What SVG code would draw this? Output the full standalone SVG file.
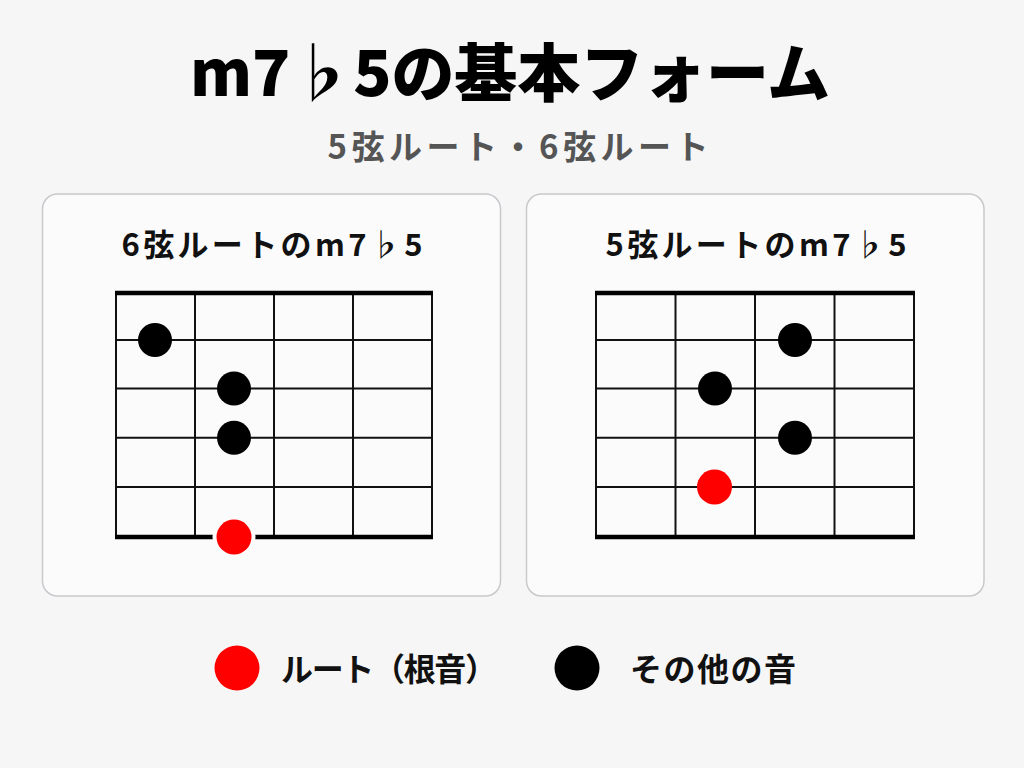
<svg xmlns="http://www.w3.org/2000/svg" width="1024" height="768" viewBox="0 0 1024 768">
  <style>
    .t { font-family: "Noto Sans CJK JP", "Noto Sans", sans-serif; font-weight: bold; }
    .h { font-weight: 900; }
    .panel { fill: #fbfbfb; stroke: #c9c9cd; stroke-width: 1.5; }
    .thin { stroke: #111; stroke-width: 2; fill: none; }
    .thick { stroke: #000; stroke-width: 4.5; }
    .note { fill: #000; }
    .root { fill: #ff0000; }
  </style>
  <rect x="0" y="0" width="1024" height="768" fill="#f6f6f6"/>

  <g id="title">
    <text class="t h" x="510" y="96" font-size="63" text-anchor="middle" fill="#000" textLength="640" lengthAdjust="spacing">m7♭5の基本フォーム</text>
    <text class="t" x="518" y="159" font-size="33" text-anchor="middle" fill="#555" textLength="381" lengthAdjust="spacing">5弦ルート・6弦ルート</text>
  </g>

  <g id="panel-6">
    <rect class="panel" x="42.5" y="194" width="458" height="402" rx="15"/>
    <text class="t" x="272" y="256" font-size="31" text-anchor="middle" fill="#111" textLength="301" lengthAdjust="spacing">6弦ルートのm7♭5</text>
    <g class="thin">
      <line x1="116" y1="293" x2="116" y2="537"/>
      <line x1="195" y1="293" x2="195" y2="537"/>
      <line x1="274" y1="293" x2="274" y2="537"/>
      <line x1="353" y1="293" x2="353" y2="537"/>
      <line x1="432" y1="293" x2="432" y2="537"/>
      <line x1="116" y1="340" x2="432" y2="340"/>
      <line x1="116" y1="388.5" x2="432" y2="388.5"/>
      <line x1="116" y1="437.8" x2="432" y2="437.8"/>
      <line x1="116" y1="487" x2="432" y2="487"/>
    </g>
    <line class="thick" x1="115" y1="293" x2="433" y2="293"/>
    <line class="thick" x1="115" y1="537" x2="433" y2="537"/>
    <circle class="note" cx="155" cy="340" r="17"/>
    <circle class="note" cx="234" cy="388.5" r="17"/>
    <circle class="note" cx="234" cy="437.8" r="17"/>
    <circle cx="234" cy="537" r="21.5" fill="#fbfbfb"/>
    <circle class="root" cx="234" cy="537" r="17.5"/>
  </g>

  <g id="panel-5">
    <rect class="panel" x="526.5" y="194" width="457.5" height="402" rx="15"/>
    <text class="t" x="756" y="256" font-size="31" text-anchor="middle" fill="#111" textLength="301" lengthAdjust="spacing">5弦ルートのm7♭5</text>
    <g class="thin">
      <line x1="596" y1="293" x2="596" y2="537"/>
      <line x1="675.5" y1="293" x2="675.5" y2="537"/>
      <line x1="755" y1="293" x2="755" y2="537"/>
      <line x1="834.5" y1="293" x2="834.5" y2="537"/>
      <line x1="914" y1="293" x2="914" y2="537"/>
      <line x1="596" y1="340" x2="914" y2="340"/>
      <line x1="596" y1="388.5" x2="914" y2="388.5"/>
      <line x1="596" y1="437.8" x2="914" y2="437.8"/>
      <line x1="596" y1="487" x2="914" y2="487"/>
    </g>
    <line class="thick" x1="595" y1="293" x2="915" y2="293"/>
    <line class="thick" x1="595" y1="537" x2="915" y2="537"/>
    <circle class="note" cx="795" cy="340" r="17"/>
    <circle class="note" cx="715" cy="388.5" r="17"/>
    <circle class="note" cx="795" cy="437.8" r="17"/>
    <circle class="root" cx="714.5" cy="487" r="17.5"/>
  </g>

  <g id="legend">
    <circle class="root" cx="237" cy="668" r="22.5"/>
    <text class="t" x="281" y="681" font-size="32" fill="#111" textLength="216" lengthAdjust="spacing">ルート（根音）</text>
    <circle class="note" cx="577" cy="668" r="22.5"/>
    <text class="t" x="630" y="681" font-size="32" fill="#111" textLength="166" lengthAdjust="spacing">その他の音</text>
  </g>
</svg>
